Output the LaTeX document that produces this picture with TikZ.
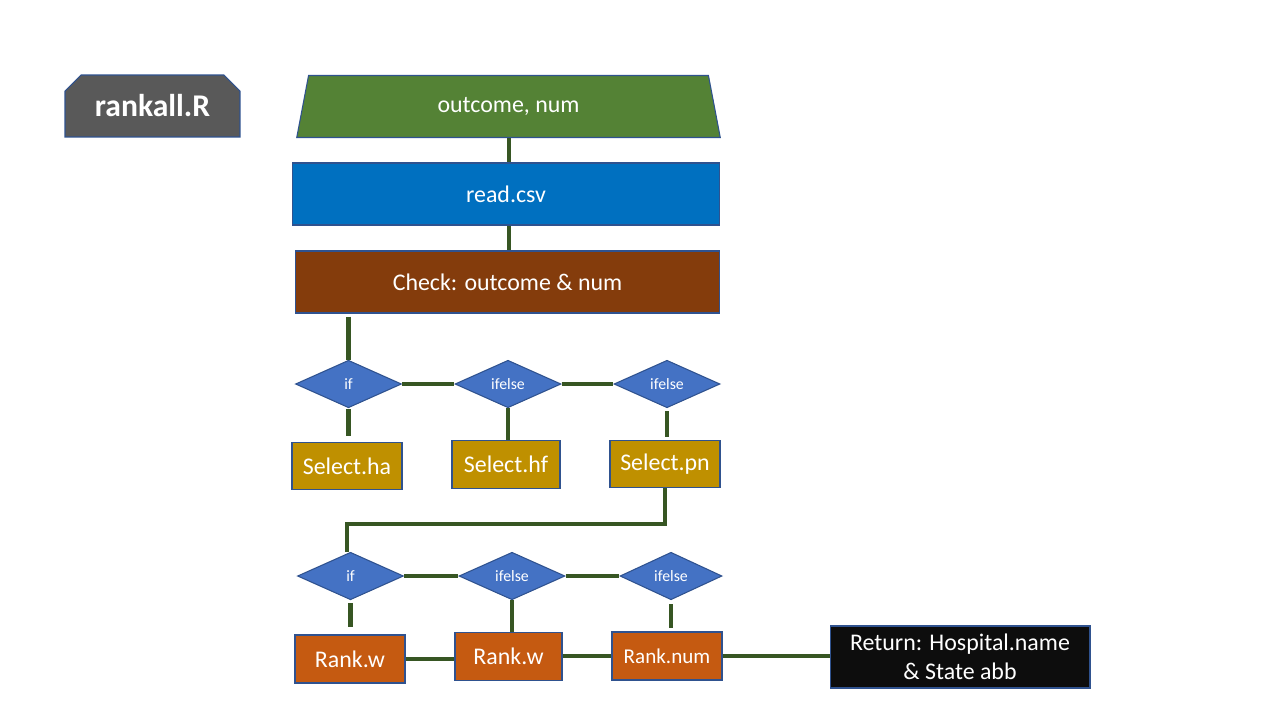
\documentclass[tikz,border=0pt]{standalone}
\usepackage{fontspec}
\setmainfont{Carlito}
\usepackage{tikz}
\usetikzlibrary{shapes.geometric}
\usetikzlibrary{shapes.misc}

\definecolor{titlegray}{HTML}{595959}
\definecolor{inpgreen}{HTML}{548235}
\definecolor{csvblue}{HTML}{0070C0}
\definecolor{chkbrown}{HTML}{843C0C}
\definecolor{decblue}{HTML}{4472C4}
\definecolor{edgeblue}{HTML}{2F528F}
\definecolor{selgold}{HTML}{BF9000}
\definecolor{rankorange}{HTML}{C55A11}
\definecolor{retblack}{HTML}{0D0D0D}
\definecolor{linkgreen}{HTML}{375623}

\begin{document}
\begin{tikzpicture}[x=0.02cm,y=-0.02cm,
    txt/.style={text=white,font=\fontsize{13.6}{16.4}\selectfont,align=center},
    box/.style={txt,draw=edgeblue,line width=0.6pt,inner sep=0pt},
    dec/.style={diamond,draw=edgeblue,fill=decblue,line width=0.6pt,inner sep=0pt,
        text=white,font=\fontsize{9}{10}\selectfont,minimum width=2.12cm,minimum height=0.95cm},
    sel/.style={box,fill=selgold,minimum width=2.2cm,minimum height=0.95cm},
    rnk/.style={box,fill=rankorange,minimum width=2.18cm,minimum height=0.96cm},
    link/.style={draw=linkgreen,line width=2.3pt}]
    \useasboundingbox[fill=white] (0,0) rectangle (1280,720);

    \node[box,chamfered rectangle,chamfered rectangle corners={north west,north east},
        chamfered rectangle xsep=0.16cm,chamfered rectangle ysep=0.16cm,
        fill=titlegray,minimum width=3.5cm,minimum height=1.24cm,
        font=\fontsize{18}{20}\selectfont\bfseries] (title) at (152.5,106) {rankall.R};

    \node[box,trapezium,trapezium left angle=77,trapezium right angle=77,trapezium stretches=true,
        fill=inpgreen,minimum width=8.54cm,minimum height=1.24cm] (inp) at (508.5,106.5) {outcome, num};
    \node[box,fill=csvblue,minimum width=8.56cm,minimum height=1.24cm] (csv) at (506,194) {read.csv};
    \node[box,fill=chkbrown,minimum width=8.5cm,minimum height=1.24cm] (chk) at (507.5,282) {Check: outcome \& num};

    \node[dec] (d1) at (348.5,384) {if};
    \node[dec] (d2) at (508,384) {ifelse};
    \node[dec] (d3) at (667,384) {ifelse};

    \node[sel] (sha) at (347,466) {Select.ha};
    \node[sel,minimum width=2.16cm] (shf) at (506,464.5) {Select.hf};
    \node[sel] (spn) at (665,464) {Select.pn};

    \node[dec] (d4) at (350.5,576) {if};
    \node[dec] (d5) at (512,576) {ifelse};
    \node[dec,minimum width=2.04cm] (d6) at (671,576) {ifelse};

    \node[rnk,minimum width=2.2cm] (r1) at (350,659) {Rank.w};
    \node[rnk,minimum width=2.14cm] (r2) at (508.5,656.5) {Rank.w};
    \node[rnk,minimum width=2.2cm,font=\fontsize{12}{14}\selectfont] (r3) at (667,656) {Rank.num};
    \node[box,fill=retblack,minimum width=5.2cm,minimum height=1.24cm] (ret) at (960,657)
        {Return: Hospital.name\\\& State abb};

    \coordinate (bend) at (347,524);

    % top chain
    \draw[link] (inp.south) -- (inp.south |- csv.north);
    \draw[link] (inp.south |- csv.south) -- (inp.south |- chk.north);
    \draw[link,shorten <=0.06cm] (chk.south -| d1.north) -- (d1.north);

    % first choice
    \draw[link] (d1) -- (d2);
    \draw[link] (d2) -- (d3);
    \draw[link,shorten <=0.02cm,shorten >=0.12cm] (d1.south) -- (d1.south |- sha.north);
    \draw[link] (d2.south) -- (d2.south |- shf.north);
    \draw[link,shorten <=0.06cm,shorten >=0.06cm] (d3.south) -- (d3.south |- spn.north);
    \draw[link] (spn.south) |- (bend) -- (bend |- d4.north);

    % second choice
    \draw[link] (d4) -- (d5);
    \draw[link] (d5) -- (d6);
    \draw[link,shorten <=0.06cm,shorten >=0.14cm] (d4.south) -- (d4.south |- r1.north);
    \draw[link] (d5.south) -- (d5.south |- r2.north);
    \draw[link,shorten <=0.08cm,shorten >=0.06cm] (d6.south) -- (d6.south |- r3.north);
    \draw[link] (r1.east) -- (r1.east -| r2.west);
    \draw[link] (r2.east |- r3.west) -- (r3.west);
    \draw[link] (r3.east) -- (r3.east -| ret.west);
\end{tikzpicture}
\end{document}
